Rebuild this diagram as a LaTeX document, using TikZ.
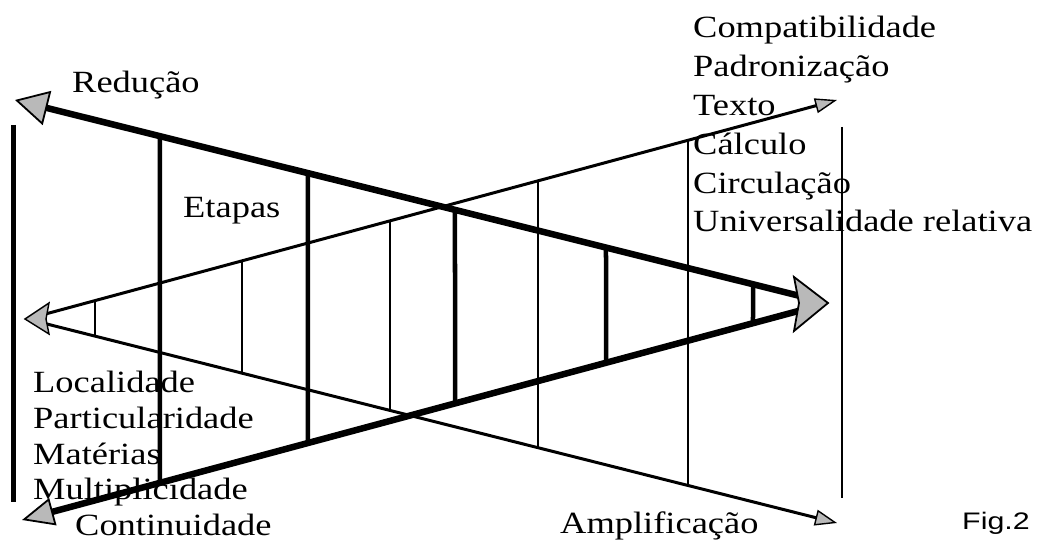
\documentclass[tikz,border=0pt]{standalone}
\usepackage{fontspec}
\usepackage{graphicx}
\setmainfont{Liberation Serif}
\newfontfamily\figfont{Liberation Sans}
\usetikzlibrary{arrows.meta,calc}
\newcommand{\sx}[1]{\scalebox{1.18}[1]{#1}}
\newcommand{\fx}[1]{\scalebox{1.27}[1]{#1}}
\begin{document}
\begin{tikzpicture}[x=1bp,y=-1bp,
  thickline/.style={line width=6.5bp},
  thinline/.style={line width=3bp},
  vthick/.style={line width=4.5bp},
  vthin/.style={line width=2.5bp},
  headfill/.style={fill=gray!55,draw=black,line width=1.8bp,line join=miter},
  lbl/.style={anchor=base west,inner sep=0pt,font=\fontsize{31}{36}\selectfont},
  figlbl/.style={anchor=base west,inner sep=0pt,font=\figfont\fontsize{24}{28}\selectfont}]
\useasboundingbox (0,0) rectangle (1049,540);

% key points
\coordinate (RL) at (15,100);   % Redução tip
\coordinate (CL) at (22,520);   % Continuidade tip
\coordinate (R)  at (828,303);  % common right tip
\coordinate (L)  at (25,319);   % common left tip
\coordinate (UR) at (837,100);  % upper right thin tip
\coordinate (LR) at (837,523);  % Amplificação tip
\coordinate (Lb) at (27,319);

% thick converging lines
\draw[thickline,shorten <=14bp,
  -{Triangle[length=33bp,width=35bp,fill=gray!55,line width=1.8bp]}] (R) -- (RL);
\draw[thickline,shorten <=14bp,
  -{Triangle[length=32bp,width=28bp,fill=gray!55,line width=1.8bp]}] (R) -- (CL);

% thin diverging lines
\draw[thinline,shorten <=10bp,
  -{Triangle[length=22bp,width=15bp,fill=gray!55,line width=1.4bp]}] (Lb) -- (UR);
\draw[thinline,shorten <=10bp,
  -{Triangle[length=22bp,width=16bp,fill=gray!55,line width=1.4bp]}] (Lb) -- (LR);

% arrowheads at shared tips
\draw[headfill] (R) -- (794,277) -- (799,303) -- (794,331) -- cycle;
\draw[headfill,line width=1.4bp] (L) -- (49,303) -- (46,319) -- (49,334) -- cycle;

% outer verticals
\coordinate (VLt) at (13,125);
\coordinate (VLb) at (13,502);
\coordinate (VRt) at (842,127);
\coordinate (VRb) at (842,498);
\draw[line width=5bp] (VLt) -- (VLb);
\draw[vthin] (VRt) -- (VRb);

% verticals between the thick lines
\foreach \x in {160,308,455,606,753}
  \draw[vthick] ($(RL)!{(\x-15)/813}!(R)$) -- ($(CL)!{(\x-22)/806}!(R)$);

% verticals between the thin lines
\foreach \x in {95,242,390,538,688}
  \draw[vthin] ($(Lb)!{(\x-27)/810}!(UR)$) -- ($(Lb)!{(\x-27)/810}!(LR)$);

% labels
\node[lbl] (reducao) at (72,93) {\sx{Redução}};
\node[lbl] (etapas) at (183,218) {\sx{Etapas}};

\node[lbl] (r1) at (693,38)  {\sx{Compatibilidade}};
\node[lbl] (r2) at (693,77)  {\sx{Padronização}};
\node[lbl] (r3) at (693,116) {\sx{Texto}};
\node[lbl] (r4) at (693,155) {\sx{Cálculo}};
\node[lbl] (r5) at (693,194) {\sx{Circulação}};
\node[lbl] (r6) at (693,232) {\sx{Universalidade relativa}};

\node[lbl] (l1) at (33,392) {\sx{Localidade}};
\node[lbl] (l2) at (33,428) {\sx{Particularidade}};
\node[lbl] (l3) at (33,464) {\sx{Matérias}};
\node[lbl] (l4) at (33,499) {\sx{Multiplicidade}};
\node[lbl] (cont) at (75,535) {\sx{Continuidade}};
\node[lbl] (ampl) at (560,533) {\sx{Amplificação}};

\node[figlbl] (fig) at (962,529) {\fx{Fig.2}};
\end{tikzpicture}
\end{document}
